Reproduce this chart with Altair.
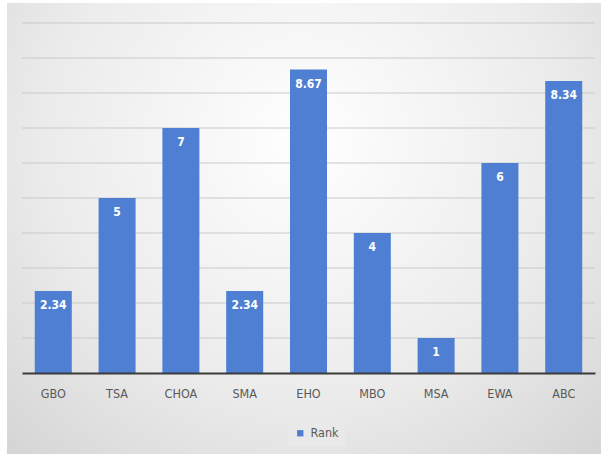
import altair as alt
import pandas as pd

categories = ["GBO", "TSA", "CHOA", "SMA", "EHO", "MBO", "MSA", "EWA", "ABC"]
values = [2.34, 5, 7, 2.34, 8.67, 4, 1, 6, 8.34]
labels = ["2.34", "5", "7", "2.34", "8.67", "4", "1", "6", "8.34"]
series = ["Rank"] * len(categories)
grid_values = [1, 2, 3, 4, 5, 6, 7, 8, 9, 10]

df = pd.DataFrame({"cat": categories, "val": values, "lab": labels, "series": series})
gdf = pd.DataFrame({"g": grid_values})

FONT = "DejaVu Sans Condensed"
BLUE = "#4f7fd2"

gradient = {
    "gradient": "radial",
    "x1": 0.5, "y1": 0.35, "r1": 0.0,
    "x2": 0.5, "y2": 0.35, "r2": 0.8,
    "stops": [
        {"offset": 0.0, "color": "#ffffff"},
        {"offset": 0.55, "color": "#ebebeb"},
        {"offset": 1.0, "color": "#cfcfcf"},
    ],
}

yscale = alt.Scale(domain=[0, 10], nice=False)

bg = alt.Chart(pd.DataFrame({"a": [0]})).mark_rect(color=gradient, clip=False).encode(
    x=alt.value(-15), x2=alt.value(579), y=alt.value(-20), y2=alt.value(431)
)

grid = alt.Chart(gdf).mark_rule(color="#c9c9c9", strokeWidth=1).encode(
    y=alt.Y("g:Q", scale=yscale, axis=None), x=alt.value(0), x2=alt.value(573)
)

xenc = alt.X(
    "cat:N", sort=categories, title=None,
    scale=alt.Scale(paddingInner=0.42, paddingOuter=0.2),
    axis=alt.Axis(labelAngle=0, labelFont=FONT, labelFontSize=12.5, labelColor="#595959",
                  tickSize=0, labelPadding=14, domainColor="#3a3a3a", domainWidth=2,
                  grid=False, zindex=1),
)

bars = alt.Chart(df).mark_bar(color=BLUE).encode(
    x=xenc, y=alt.Y("val:Q", scale=yscale, axis=None),
    color=alt.Color("series:N", scale=alt.Scale(range=[BLUE]),
                    legend=alt.Legend(title=None, orient="none", legendX=266, legendY=398,
                                      symbolType="square", symbolSize=40,
                                      labelFont=FONT, labelFontSize=12.5, labelColor="#595959",
                                      fillColor="#e9e9e9", padding=6, symbolStrokeWidth=0)),
)

text = alt.Chart(df).mark_text(color="white", font=FONT, fontSize=12, fontWeight="bold",
                               baseline="middle", dy=14).encode(
    x=alt.X("cat:N", sort=categories), y=alt.Y("val:Q", scale=yscale), text="lab:N"
)

chart = alt.layer(bg, grid, bars, text).properties(
    width=573, height=350,
    autosize=alt.AutoSizeParams(type="none"),
    padding={"left": 22, "top": 23, "right": 11, "bottom": 83},
    background="white",
).configure_view(stroke=None)

chart.save("out.html", embed_options={"renderer": "svg", "actions": False})
